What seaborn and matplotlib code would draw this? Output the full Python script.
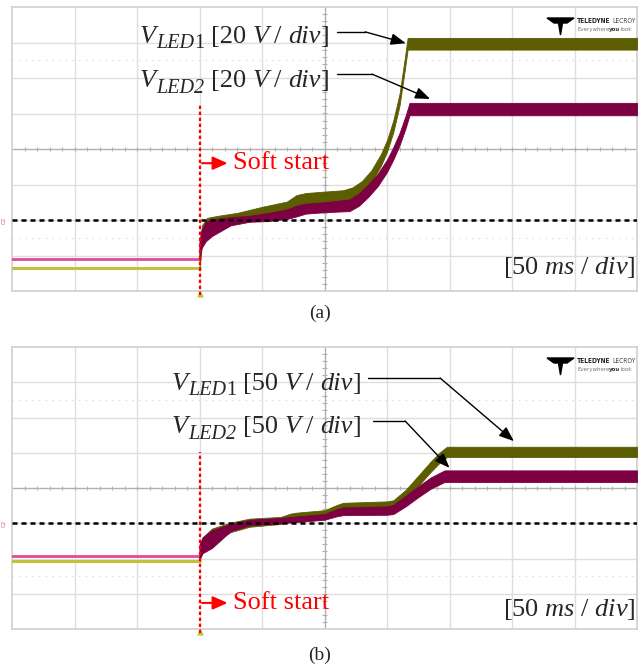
import numpy as np
import matplotlib
matplotlib.use("Agg")
import matplotlib.pyplot as plt
import seaborn as sns

sns.set_style("white")
plt.rcParams["font.family"] = ["Liberation Serif", "DejaVu Serif"]
plt.rcParams["mathtext.fontset"] = "custom"
plt.rcParams["mathtext.rm"] = "Liberation Serif"
plt.rcParams["mathtext.it"] = "Liberation Serif:italic"

# ---- trace data, in screen divisions (10 x 8 grid) ----
# panel (a): 20 V/div, 50 ms/div
a_pre_led1 = 0.65
a_pre_led2 = 0.90
a_led1_t  = [3.00, 3.04, 3.12, 3.30, 3.60, 4.00, 4.40, 4.55, 4.70, 5.00, 5.30, 5.45, 5.60, 5.75, 5.90, 6.00, 6.10, 6.20, 6.28, 6.33, 10.0]
a_led1_hi = [1.30, 1.85, 2.06, 2.12, 2.20, 2.37, 2.52, 2.70, 2.76, 2.80, 2.84, 2.92, 3.10, 3.40, 3.85, 4.25, 4.80, 5.55, 6.50, 7.13, 7.13]
a_led1_lo = [0.65, 1.30, 1.55, 1.80, 1.95, 2.05, 2.15, 2.30, 2.40, 2.45, 2.50, 2.58, 2.76, 3.06, 3.52, 3.92, 4.47, 5.22, 6.17, 6.80, 6.80]
a_led2_t  = [3.00, 3.03, 3.10, 3.20, 3.35, 3.50, 3.80, 4.10, 4.40, 4.55, 4.70, 5.00, 5.40, 5.55, 5.70, 5.85, 6.00, 6.10, 6.20, 6.30, 6.36, 10.0]
a_led2_hi = [1.40, 1.70, 1.95, 2.02, 2.05, 2.08, 2.12, 2.20, 2.30, 2.40, 2.46, 2.50, 2.58, 2.75, 3.00, 3.30, 3.70, 4.05, 4.45, 4.95, 5.30, 5.30]
a_led2_lo = [0.90, 1.20, 1.40, 1.55, 1.70, 1.85, 1.95, 1.97, 2.03, 2.10, 2.18, 2.22, 2.25, 2.40, 2.65, 2.95, 3.35, 3.70, 4.10, 4.60, 4.95, 4.95]
a_ref = 2.0

# panel (b): 50 V/div, 50 ms/div
b_pre_led1 = 1.93
b_pre_led2 = 2.07
b_led1_t  = [3.00, 3.05, 3.20, 3.50, 3.80, 4.30, 4.45, 4.55, 5.00, 5.20, 5.30, 6.00, 6.10, 6.30, 6.50, 6.70, 6.85, 6.96, 10.0]
b_led1_hi = [2.30, 2.60, 2.85, 3.02, 3.13, 3.18, 3.27, 3.30, 3.37, 3.52, 3.58, 3.62, 3.65, 3.95, 4.35, 4.75, 5.02, 5.17, 5.17]
b_led1_lo = [1.93, 2.20, 2.45, 2.75, 2.90, 2.98, 3.05, 3.08, 3.14, 3.26, 3.32, 3.36, 3.38, 3.66, 4.06, 4.46, 4.73, 4.88, 4.88]
b_led2_t  = [3.00, 3.05, 3.20, 3.50, 3.80, 4.30, 4.60, 5.00, 5.20, 5.30, 6.00, 6.10, 6.30, 6.50, 6.70, 6.92, 10.0]
b_led2_hi = [2.40, 2.60, 2.80, 2.98, 3.10, 3.15, 3.20, 3.26, 3.40, 3.45, 3.48, 3.52, 3.78, 4.05, 4.30, 4.50, 4.50]
b_led2_lo = [2.00, 2.15, 2.30, 2.78, 2.94, 3.00, 3.04, 3.10, 3.20, 3.23, 3.24, 3.26, 3.48, 3.74, 3.98, 4.17, 4.17]
b_ref = 3.0

t_start = 3.0
scale_a = "20"
scale_b = "50"
time_div = "50"

OLIVE = "#5c5c00"
MAROON = "#7d0042"
PINK = "#e8489a"
YELLOW = "#c2c23a"

W, H = 639, 668
fig = plt.figure(figsize=(W / 100, H / 100), dpi=100)
renderer = fig.canvas.get_renderer()


def px_axes(left, top, right, bottom):
    return fig.add_axes([left / W, 1 - bottom / H, (right - left) / W, (bottom - top) / H])


def scope_grid(ax):
    ax.set_xlim(0, 10)
    ax.set_ylim(0, 8)
    ax.set_xticks([])
    ax.set_yticks([])
    for s in ax.spines.values():
        s.set_color("#cfcfcf")
        s.set_linewidth(1.2)
    for x in range(1, 10):
        if x != 5:
            ax.axvline(x, color="#dedede", lw=1.0, zorder=0)
    for y in range(1, 8):
        if y != 4:
            ax.axhline(y, color="#dedede", lw=1.0, zorder=0)
    for y in (1.5, 6.5):
        ax.axhline(y, color="#d0d0d0", lw=0.8, ls=(0, (1, 5)), zorder=0)
    ax.axhline(4, color="#b0b0b0", lw=1.0, zorder=0)
    ax.axvline(5, color="#b0b0b0", lw=1.0, zorder=0)
    xt = np.arange(0.2, 10, 0.2)
    ax.vlines(xt, 4 - 0.06, 4 + 0.06, color="#b0b0b0", lw=0.8, zorder=0)
    yt = np.arange(0.2, 8, 0.2)
    ax.hlines(yt, 5 - 0.035, 5 + 0.035, color="#b0b0b0", lw=0.8, zorder=0)


def text_runs(x_px, y_px, pieces):
    """Lay out a row of text pieces left to right, in figure pixels from the top-left."""
    cur = x_px
    for s, size, kw, dy, gap in pieces:
        cur += gap
        t = fig.text(cur / W, 1 - (y_px + dy) / H, s, fontsize=size, va="baseline", ha="left",
                     zorder=10, **kw)
        cur = t.get_window_extent(renderer).x1
    return cur


def logo(x_px, y_px):
    # stylised company mark and wordmark in the top right corner
    xs = np.array([0, 27, 20, 15.5, 13.5, 11.5, 7])
    ys = np.array([0, 0, 5, 5, 17, 5, 5])
    fig.patches.append(plt.Polygon(np.column_stack([(x_px + xs) / W, 1 - (y_px + ys) / H]),
                                   closed=True, color="black", transform=fig.transFigure,
                                   figure=fig, zorder=10))
    cond = dict(family="DejaVu Sans", stretch="condensed")
    x = text_runs(x_px + 30, y_px + 5, [("TELEDYNE", 4.8, dict(fontweight="bold", **cond), 0, 0)])
    text_runs(x, y_px + 5, [("LECROY", 4.8, dict(color="#444444", **cond), 0, 1.5)])
    x = text_runs(x_px + 30, y_px + 13, [("Everywhere", 4.4, dict(color="#777777", **cond), 0, 0)])
    x = text_runs(x, y_px + 13, [("you", 4.4, dict(color="#333333", fontweight="bold", **cond), 0, 0)])
    text_runs(x, y_px + 13, [("look", 4.4, dict(color="#777777", **cond), 0, 0)])


def draw_panel(ax, pre1, pre2, t1, hi1, lo1, t2, hi2, lo2, ref):
    scope_grid(ax)
    sns.lineplot(x=[0, t_start], y=[pre1, pre1], ax=ax, color=YELLOW, lw=2.2, zorder=3)
    sns.lineplot(x=[0, t_start], y=[pre2, pre2], ax=ax, color=PINK, lw=2.0, zorder=3)
    ax.fill_between(t1, lo1, hi1, color=OLIVE, lw=0.6, edgecolor=OLIVE, zorder=4)
    ax.fill_between(t2, lo2, hi2, color=MAROON, lw=0.6, edgecolor=MAROON, zorder=5)
    ax.axhline(ref, color="black", lw=1.8, ls=(0, (2, 1.6)), zorder=7)
    ax.text(-0.12, ref, "C2", fontsize=4, color=PINK, rotation=90, ha="center", va="center",
            clip_on=False, family="DejaVu Sans")
    ax.plot([t_start], [-0.08], marker="^", ms=3.5, color=YELLOW, clip_on=False, zorder=8)


def label_arrow(ax, pts, tip):
    ax.plot([p[0] for p in pts], [p[1] for p in pts], color="black", lw=1.0, zorder=8)
    ax.annotate("", xy=tip, xytext=pts[-1],
                arrowprops=dict(arrowstyle="-|>,head_length=0.9,head_width=0.35",
                                color="black", lw=1.0, shrinkA=0, shrinkB=0), zorder=8)


FS = 19
SUB = 14.5
IT = dict(style="italic")
RM = dict()


def channel_label(x_px, y_px, idx, scale, dy):
    text_runs(x_px, y_px, [
        ("V", FS, IT, 0, 0),
        ("LED", SUB, IT, dy, 0),
        (idx, SUB, RM if idx == "1" else IT, dy, 0),
        ("[" + scale, FS, RM, 0, 7),
        ("V", FS, IT, 0, 6),
        ("/", FS, RM, 0, 6),
        ("div", FS, IT, 0, 6),
        ("]", FS, RM, 0, 0),
    ])


# ---------------- panel (a) ----------------
ax1 = px_axes(12, 7, 637, 291)
draw_panel(ax1, a_pre_led1, a_pre_led2, a_led1_t, a_led1_hi, a_led1_lo,
           a_led2_t, a_led2_hi, a_led2_lo, a_ref)
ax1.plot([t_start, t_start], [-0.1, 5.3], color="red", lw=1.6, ls=(0, (1.5, 1.2)), zorder=9, clip_on=False)
ax1.annotate("", xy=(3.45, 3.6), xytext=(3.04, 3.6),
             arrowprops=dict(arrowstyle="-|>,head_length=0.9,head_width=0.4", color="red", lw=1.5,
                             shrinkA=0, shrinkB=0), zorder=9)
ax1.text(3.54, 3.6, "Soft start", color="red", fontsize=FS, va="center", ha="left", zorder=9)
channel_label(140, 43, "1", scale_a, 5)
channel_label(140, 87, "2", scale_a, 6)
label_arrow(ax1, [(5.2, 7.3), (5.65, 7.3)], (6.3, 6.98))
label_arrow(ax1, [(5.2, 6.11), (5.76, 6.11)], (6.69, 5.41))
ax1.text(9.97, 0.65, "[" + time_div + r" $ms$ / $div$]", fontsize=FS, va="center", ha="right", zorder=9)
logo(547, 18)

# ---------------- panel (b) ----------------
ax2 = px_axes(12, 347, 637, 629)
draw_panel(ax2, b_pre_led1, b_pre_led2, b_led1_t, b_led1_hi, b_led1_lo,
           b_led2_t, b_led2_hi, b_led2_lo, b_ref)
ax2.plot([t_start, t_start], [-0.1, 5.02], color="red", lw=1.6, ls=(0, (1.5, 1.2)), zorder=9, clip_on=False)
ax2.annotate("", xy=(3.45, 0.74), xytext=(3.04, 0.74),
             arrowprops=dict(arrowstyle="-|>,head_length=0.9,head_width=0.4", color="red", lw=1.5,
                             shrinkA=0, shrinkB=0), zorder=9)
ax2.text(3.54, 0.74, "Soft start", color="red", fontsize=FS, va="center", ha="left", zorder=9)
channel_label(172, 390, "1", scale_b, 5)
channel_label(172, 433, "2", scale_b, 6)
label_arrow(ax2, [(5.7, 7.12), (6.85, 7.12)], (8.03, 5.33))
label_arrow(ax2, [(5.78, 5.9), (6.29, 5.9)], (7.0, 4.57))
ax2.text(9.97, 0.54, "[" + time_div + r" $ms$ / $div$]", fontsize=FS, va="center", ha="right", zorder=9)
logo(547, 358)

fig.text(320 / W, 1 - 313 / H, "(a)", fontsize=14, ha="center", va="center")
fig.text(320 / W, 1 - 655 / H, "(b)", fontsize=14, ha="center", va="center")

fig.savefig("out.png", dpi=100)
